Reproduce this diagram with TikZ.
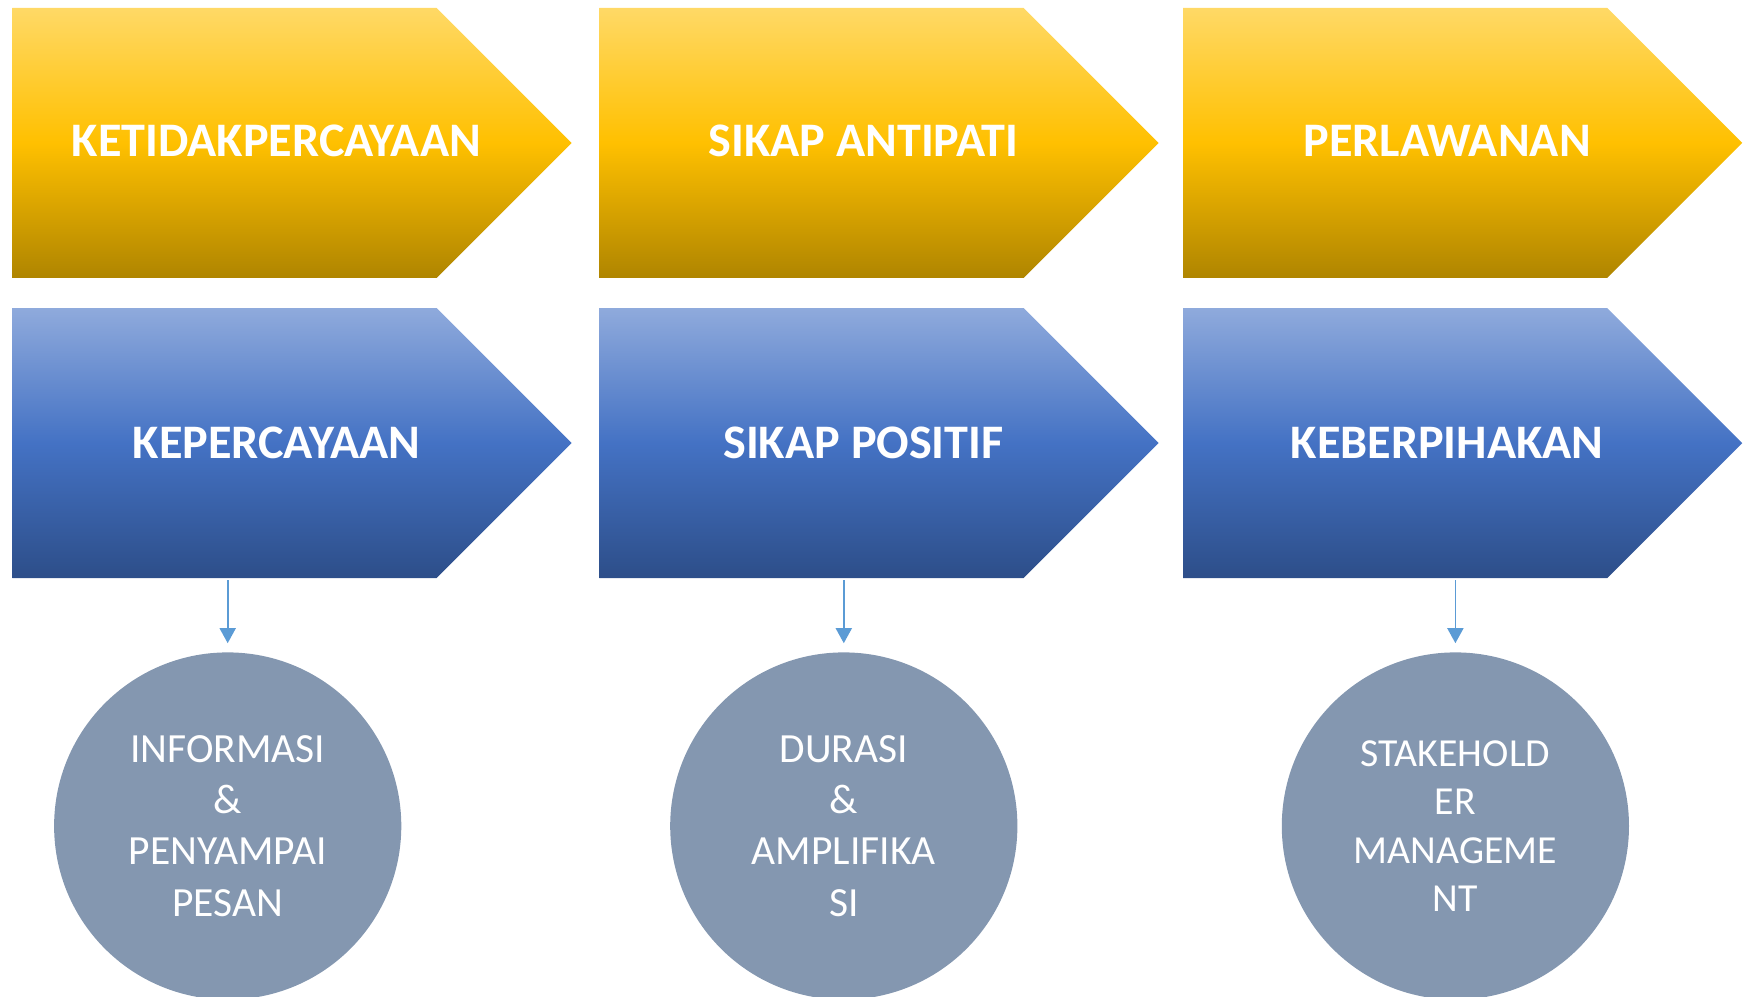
\documentclass[tikz,border=0pt]{standalone}
\usepackage{fontspec}
\setmainfont{Carlito}
\usetikzlibrary{positioning, arrows.meta, shapes.symbols}

\definecolor{goldtop}{RGB}{255,217,102}
\definecolor{goldmid}{RGB}{255,192,0}
\definecolor{goldbot}{RGB}{175,133,0}
\definecolor{bluetop}{RGB}{143,170,220}
\definecolor{bluemid}{RGB}{68,114,196}
\definecolor{bluebot}{RGB}{45,78,137}
\definecolor{circfill}{RGB}{132,151,176}
\definecolor{linkblue}{RGB}{91,155,213}

\tikzset{
  chevron/.style={signal, signal to=east, signal pointer angle=90,
    minimum width=5.59cm, minimum height=2.70cm, inner sep=0pt, outer sep=0pt},
  negbox/.style={chevron, top color=goldtop, bottom color=goldbot, middle color=goldmid},
  posbox/.style={chevron, top color=bluetop, bottom color=bluebot, middle color=bluemid},
  headtext/.style={text=white, inner sep=0pt, font=\fontsize{13.7}{16}\selectfont\bfseries},
  keybox/.style={circle, fill=circfill, minimum size=3.47cm, inner sep=0pt,
    text=white, align=center, font=\fontsize{11.8}{14.6}\selectfont},
  link/.style={linkblue, line width=0.5pt, -{Triangle[width=1.6mm, length=1.5mm]}}
}

\begin{document}
\begin{tikzpicture}[x=0.01cm, y=0.01cm]
    \useasboundingbox (0,0) rectangle (1750,-997);

    % Top row: negative attitudes
    \foreach \n/\x/\name in {n1/12.3/KETIDAKPERCAYAAN, n2/599.3/SIKAP ANTIPATI, n3/1183/PERLAWANAN}{
        \node[negbox, anchor=west] (\n) at (\x,-142.9) {};
        \node[headtext] (\n-label) at ([xshift=0.52cm, yshift=0.02cm]\n.center) {\name};
    }

    % Bottom row: positive attitudes
    \foreach \p/\x/\name in {p1/12.3/KEPERCAYAAN, p2/599.3/SIKAP POSITIF, p3/1183/KEBERPIHAKAN}{
        \node[posbox, anchor=west] (\p) at (\x,-443.1) {};
        \node[headtext] (\p-label) at ([xshift=0.52cm]\p.center) {\name};
    }

    % Circles
    \node[keybox] (c1) at (227.7,-826) {INFORMASI\\\&\\PENYAMPAI\\PESAN};
    \node[keybox] (c2) at (843.8,-826) {DURASI\\\&\\AMPLIFIKA\\SI};
    \node[keybox, font=\fontsize{11.3}{13.8}\selectfont] (c3) at (1455.4,-826) {STAKEHOLD\\ER\\MANAGEME\\NT};

    % Arrows down
    \foreach \p/\c in {p1/c1, p2/c2, p3/c3}
        \draw[link, shorten <=0.02cm, shorten >=0.085cm] (\p.south -| \c.north) -- (\c.north);
\end{tikzpicture}
\end{document}
